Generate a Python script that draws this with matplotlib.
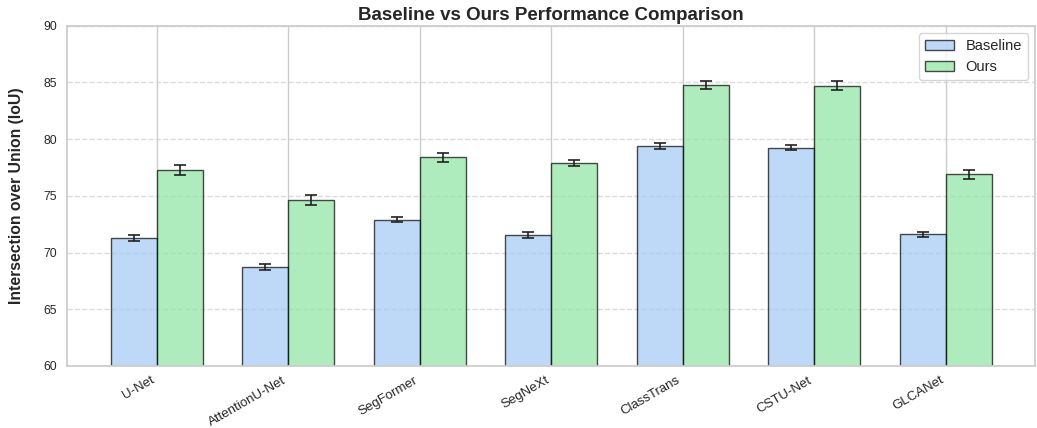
import matplotlib
matplotlib.use("Agg")
import matplotlib.pyplot as plt
import seaborn as sns
import numpy as np

categories = ["U-Net", "AttentionU-Net", "SegFormer", "SegNeXt", "ClassTrans", "CSTU-Net", "GLCANet"]
baseline = [71.3, 68.75, 72.9, 71.55, 79.4, 79.25, 71.6]
ours = [77.3, 74.6, 78.4, 77.9, 84.8, 84.7, 76.9]
baseline_err = [0.25, 0.25, 0.25, 0.25, 0.25, 0.2, 0.25]
ours_err = [0.45, 0.45, 0.4, 0.3, 0.35, 0.4, 0.4]

sns.set_theme(style="whitegrid")
plt.rcParams['font.family'] = ['Liberation Sans', 'DejaVu Sans']

pal = sns.color_palette("pastel")
fig, ax = plt.subplots(figsize=(10.37, 4.28), dpi=100)
x = np.arange(len(categories))
w = 0.35
ekw = dict(ecolor="#222222", elinewidth=1.2, capthick=1.2)
ax.bar(x - w/2, baseline, w, yerr=baseline_err, capsize=4, color=pal[0], alpha=0.7,
       edgecolor="black", linewidth=1, label="Baseline", error_kw=ekw)
ax.bar(x + w/2, ours, w, yerr=ours_err, capsize=4, color=pal[2], alpha=0.7,
       edgecolor="black", linewidth=1, label="Ours", error_kw=ekw)

ax.set_ylim(60, 90)
ax.set_xlim(-0.68, 6.68)
ax.set_xticks(x)
ax.set_xticklabels(categories, rotation=30, ha="right", fontsize=9.5)
ax.tick_params(axis="x", pad=0)
ax.tick_params(axis="y", labelsize=8.8, pad=1.5)
ax.set_ylabel("Intersection over Union (IoU)", fontsize=11.3, fontweight="bold", labelpad=14)
ax.set_title("Baseline vs Ours Performance Comparison", fontsize=13.5, fontweight="bold", pad=4)
ax.grid(axis="y", linestyle="--", alpha=0.7)
ax.legend(loc="upper right", fontsize=10.5)
fig.subplots_adjust(left=0.065, right=0.998, top=0.94, bottom=0.145)
fig.savefig("out.png", dpi=100)
